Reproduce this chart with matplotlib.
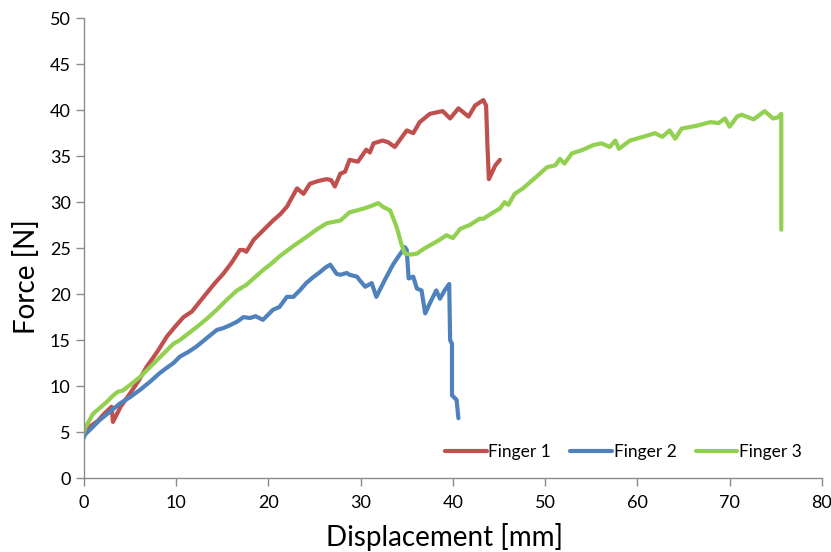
import matplotlib
matplotlib.use("Agg")
import matplotlib.pyplot as plt

plt.rcParams['font.family'] = ['Lato', 'DejaVu Sans']

f1_x = [0.0, 0.65, 1.5, 2.2, 3.0, 3.15, 4.0, 5.0, 6.0, 6.8, 8.0, 9.0, 10.0, 10.8, 11.7, 12.5, 13.3, 14.2, 15.1,
        16.0, 16.9, 17.3, 17.6, 18.4, 19.4, 20.5, 21.3, 22.0, 23.1, 23.8, 24.5, 25.4, 26.3, 26.8, 27.2, 27.8,
        28.3, 28.8, 29.7, 30.6, 31.0, 31.4, 32.4, 33.0, 33.7, 35.0, 35.7, 36.4, 37.5, 38.4, 38.9, 39.7, 40.6,
        41.7, 42.4, 43.3, 43.6, 43.75, 43.9, 44.6, 45.1]
f1_y = [4.7, 5.6, 6.2, 7.0, 7.75, 6.1, 7.8, 9.2, 10.7, 12.1, 13.8, 15.4, 16.6, 17.5, 18.1, 19.1, 20.1, 21.2, 22.2,
        23.4, 24.8, 24.8, 24.6, 25.9, 26.9, 28.0, 28.7, 29.5, 31.5, 30.9, 32.0, 32.3, 32.5, 32.4, 31.7, 33.1,
        33.3, 34.6, 34.4, 35.7, 35.4, 36.4, 36.7, 36.5, 36.0, 37.8, 37.5, 38.7, 39.6, 39.8, 39.9, 39.1, 40.2,
        39.3, 40.5, 41.1, 40.5, 36.0, 32.5, 34.0, 34.6]

f2_x = [0.0, 0.1, 0.9, 1.7, 2.8, 3.9, 5.0, 6.1, 7.2, 8.2, 9.0, 9.7, 10.4, 11.3, 12.2, 13.3, 14.4, 15.1, 15.8,
        16.6, 17.3, 18.0, 18.6, 19.4, 20.5, 21.2, 22.0, 22.7, 23.4, 24.1, 24.8, 25.6, 26.2, 26.7, 27.4, 27.8,
        28.5, 28.8, 29.6, 29.9, 30.5, 31.2, 31.7, 32.6, 33.5, 34.1, 34.8, 35.0, 35.2, 35.7, 36.1, 36.6, 37.0,
        37.5, 38.2, 38.6, 39.1, 39.6, 39.7, 39.9, 39.9, 40.4, 40.6]
f2_y = [4.4, 4.7, 5.5, 6.3, 7.2, 8.1, 8.8, 9.6, 10.5, 11.4, 12.0, 12.5, 13.2, 13.7, 14.3, 15.2, 16.1, 16.3, 16.6,
        17.0, 17.5, 17.4, 17.6, 17.2, 18.3, 18.6, 19.7, 19.7, 20.4, 21.2, 21.8, 22.4, 22.9, 23.2, 22.2, 22.1,
        22.3, 22.1, 21.9, 21.5, 20.8, 21.2, 19.7, 21.5, 23.2, 24.1, 25.1, 24.8, 21.7, 21.9, 20.6, 20.4, 17.9,
        19.0, 20.4, 19.5, 20.4, 21.1, 15.0, 14.6, 9.0, 8.5, 6.5]

f3_x = [0.0, 0.1, 1.0, 1.7, 2.5, 3.2, 3.7, 4.2, 5.1, 6.1, 7.0, 7.9, 8.8, 9.7, 10.4, 11.3, 12.2, 13.3, 14.4,
        15.5, 16.6, 17.6, 18.5, 19.4, 20.3, 21.2, 21.6, 22.8, 24.1, 25.2, 26.3, 27.8, 28.8, 29.6, 30.3, 31.2,
        31.9, 32.4, 33.2, 33.9, 34.4, 34.8, 35.4, 36.1, 36.8, 37.5, 38.4, 39.3, 40.0, 40.8, 41.8, 42.9, 43.3,
        44.4, 45.1, 45.6, 46.0, 46.7, 47.6, 48.4, 49.1, 50.2, 51.1, 51.6, 52.1, 52.9, 54.1, 55.2, 56.1, 57.0,
        57.6, 58.0, 59.2, 60.6, 61.9, 62.7, 63.5, 64.1, 64.8, 66.4, 67.9, 68.8, 69.5, 70.0, 70.8, 71.3, 72.6,
        73.8, 74.7, 75.2, 75.6, 75.6]
f3_y = [5.0, 5.4, 7.0, 7.6, 8.3, 9.0, 9.4, 9.5, 10.2, 11.0, 11.9, 12.8, 13.7, 14.6, 15.0, 15.7, 16.4, 17.3, 18.3,
        19.4, 20.4, 21.0, 21.8, 22.6, 23.3, 24.1, 24.4, 25.3, 26.2, 27.0, 27.7, 28.0, 28.9, 29.1, 29.3, 29.6,
        29.9, 29.5, 29.1, 27.3, 25.5, 24.4, 24.3, 24.4, 24.9, 25.3, 25.8, 26.4, 26.1, 27.1, 27.5, 28.2, 28.2,
        28.9, 29.3, 30.0, 29.7, 30.9, 31.5, 32.2, 32.8, 33.8, 34.0, 34.7, 34.2, 35.3, 35.7, 36.2, 36.4, 36.0,
        36.7, 35.8, 36.7, 37.1, 37.5, 37.1, 37.8, 36.9, 38.0, 38.3, 38.7, 38.6, 39.1, 38.2, 39.3, 39.5, 39.0,
        39.9, 39.1, 39.2, 39.6, 27.0]

series = [("Finger 1", f1_x, f1_y, "#C0504D"),
          ("Finger 2", f2_x, f2_y, "#4F81BD"),
          ("Finger 3", f3_x, f3_y, "#92D050")]

x_ticks = [0, 10, 20, 30, 40, 50, 60, 70, 80]
y_ticks = [0, 5, 10, 15, 20, 25, 30, 35, 40, 45, 50]

fig = plt.figure(figsize=(8.31, 5.52), dpi=100)
ax = fig.add_axes([0.101, 0.134, 0.888, 0.833])

for name, xs, ys, c in series:
    ax.plot(xs, ys, color=c, lw=3.0, label=name, solid_joinstyle='round', solid_capstyle='round')

ax.set_xlim(0, 80)
ax.set_ylim(0, 50)
ax.set_xticks(x_ticks)
ax.set_yticks(y_ticks)
for s in ['top', 'right']:
    ax.spines[s].set_visible(False)
for s in ['left', 'bottom']:
    ax.spines[s].set_color('#8c8c8c')
    ax.spines[s].set_linewidth(1.0)
ax.tick_params(axis='both', direction='out', length=6, width=1.0, color='#8c8c8c',
               labelsize=13, labelcolor='#000000')
ax.tick_params(axis='x', pad=6)
ax.set_xlabel("Displacement [mm]", fontsize=20)
ax.set_ylabel("Force [N]", fontsize=20)
ax.xaxis.set_label_coords(0.489, -0.097)
ax.yaxis.set_label_coords(-0.060, 0.437)

leg = ax.legend(loc='lower right', bbox_to_anchor=(0.994, 0.005), ncol=3, frameon=False,
                fontsize=12.5, handlelength=2.4, handletextpad=0.1, columnspacing=1.1)

fig.savefig("out.png", dpi=100)
